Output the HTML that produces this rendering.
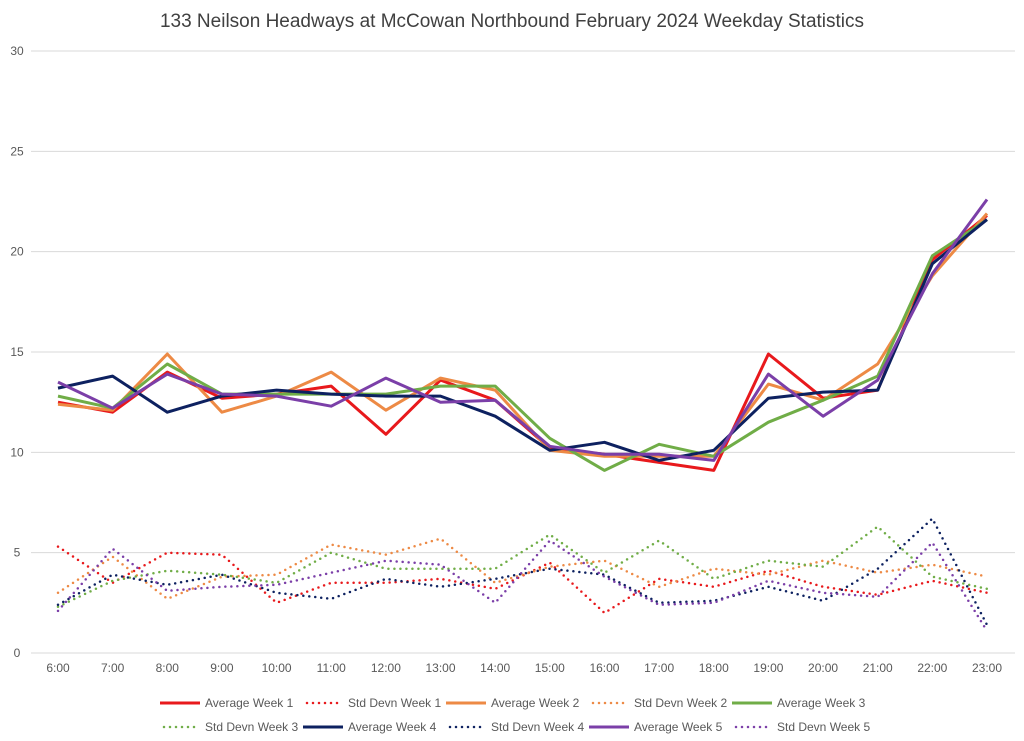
<!DOCTYPE html>
<html><head><meta charset="utf-8"><style>
body{margin:0;background:#fff;font-family:"Liberation Sans",sans-serif;}
#c{position:absolute;left:0;top:0;}
</style></head><body>
<svg id="c" width="1024" height="741">
<text x="512" y="27" text-anchor="middle" font-size="19" fill="#404040">133 Neilson Headways at McCowan Northbound February 2024 Weekday Statistics</text>
<g id="grid"></g>
<g id="series"></g>
<g id="legend"></g>
</svg>
<script>
const categories=["6:00","7:00","8:00","9:00","10:00","11:00","12:00","13:00","14:00","15:00","16:00","17:00","18:00","19:00","20:00","21:00","22:00","23:00"];
const yTicks=[0,5,10,15,20,25,30];
const avgW1=[12.5,12.0,14.0,12.7,12.9,13.3,10.9,13.6,12.6,10.2,9.9,9.5,9.1,14.9,12.7,13.1,19.6,21.8];
const sdW1=[5.3,3.5,5.0,4.9,2.5,3.5,3.5,3.7,3.2,4.5,2.0,3.7,3.3,4.1,3.3,2.9,3.6,3.0];
const avgW2=[12.4,12.1,14.9,12.0,12.8,14.0,12.1,13.7,13.1,10.1,9.8,9.8,9.8,13.4,12.6,14.4,18.8,21.9];
const sdW2=[3.0,4.8,2.7,3.8,3.9,5.4,4.9,5.7,3.5,4.3,4.6,3.3,4.2,3.9,4.6,4.0,4.4,3.8];
const avgW3=[12.8,12.2,14.4,12.9,12.9,12.9,12.9,13.3,13.3,10.7,9.1,10.4,9.8,11.5,12.6,13.8,19.8,21.6];
const sdW3=[2.3,3.6,4.1,3.9,3.5,5.0,4.2,4.2,4.2,5.9,4.0,5.6,3.7,4.6,4.3,6.3,3.8,3.2];
const avgW4=[13.2,13.8,12.0,12.8,13.1,12.9,12.8,12.8,11.8,10.1,10.5,9.6,10.1,12.7,13.0,13.1,19.4,21.6];
const sdW4=[2.4,3.9,3.4,3.9,3.0,2.7,3.7,3.3,3.7,4.2,3.9,2.5,2.6,3.3,2.6,4.2,6.7,1.4];
const avgW5=[13.5,12.2,13.9,12.9,12.8,12.3,13.7,12.5,12.6,10.3,9.9,9.9,9.6,13.9,11.8,13.6,18.9,22.6];
const sdW5=[2.1,5.2,3.1,3.3,3.4,4.0,4.6,4.4,2.5,5.6,3.8,2.4,2.5,3.6,3.0,2.8,5.5,1.1];

const NS="http://www.w3.org/2000/svg";
const X0=58,X1=987,Y0=653,Y1=51,YMAX=30;
const xs=i=>X0+i*(X1-X0)/(categories.length-1);
const ys=v=>Y0-v*(Y0-Y1)/YMAX;
function mk(t,a,p){const e=document.createElementNS(NS,t);for(const k in a)e.setAttribute(k,a[k]);p.appendChild(e);return e;}
const grid=document.getElementById('grid');
yTicks.forEach(v=>{
  const l=mk('line',{x1:31,x2:1015,y1:ys(v),y2:ys(v),stroke:"#d9d9d9","stroke-width":1},grid);
  
  
  const t=mk('text',{x:17,y:ys(v)+4,"text-anchor":"middle","font-size":12,fill:"#595959"},grid);
  t.textContent=v;
  
  
});
categories.forEach((c,i)=>{
  const t=mk('text',{x:xs(i),y:672,"text-anchor":"middle","font-size":12,fill:"#595959"},grid);
  t.textContent=c;
  
  
});
const series=[
 {n:"Average Week 1",d:avgW1,c:"#e8191c",dot:false},
 {n:"Std Devn Week 1",d:sdW1,c:"#e8191c",dot:true},
 {n:"Average Week 2",d:avgW2,c:"#ed8a45",dot:false},
 {n:"Std Devn Week 2",d:sdW2,c:"#ed8a45",dot:true},
 {n:"Average Week 3",d:avgW3,c:"#70ad47",dot:false},
 {n:"Std Devn Week 3",d:sdW3,c:"#70ad47",dot:true},
 {n:"Average Week 4",d:avgW4,c:"#0d2160",dot:false},
 {n:"Std Devn Week 4",d:sdW4,c:"#0d2160",dot:true},
 {n:"Average Week 5",d:avgW5,c:"#7b3fa8",dot:false},
 {n:"Std Devn Week 5",d:sdW5,c:"#7b3fa8",dot:true}
];
const sg=document.getElementById('series');
series.forEach(s=>{
  const pts=s.d.map((v,i)=>xs(i).toFixed(1)+","+ys(v).toFixed(1)).join(" ");
  const a={points:pts,fill:"none",stroke:s.c,"stroke-width":s.dot?2.5:3,"stroke-linejoin":"round"};
  if(s.dot){a["stroke-dasharray"]="0 6";a["stroke-linecap"]="round";}
  const p=mk('polyline',a,sg);
  
  
});
const lg=document.getElementById('legend');
const rows=[[0,1,2,3,4],[5,6,7,8,9]];
const rowY=[703,727];
rows.forEach((r,ri)=>{
  r.forEach((idx,k)=>{
    const s=series[idx];
    const x=160+k*143;
    const a={x1:x,x2:x+40,y1:rowY[ri],y2:rowY[ri],stroke:s.c,"stroke-width":s.dot?2.5:3};
    if(s.dot){a["stroke-dasharray"]="0 6";a["stroke-linecap"]="round";a.x1=x+4;a.x2=x+36;}
    const l=mk('line',a,lg);
    
    
    const t=mk('text',{x:x+45,y:rowY[ri]+4,"font-size":12,fill:"#595959"},lg);
    t.textContent=s.n;
    
    
  });
});
</script>
</body></html>
